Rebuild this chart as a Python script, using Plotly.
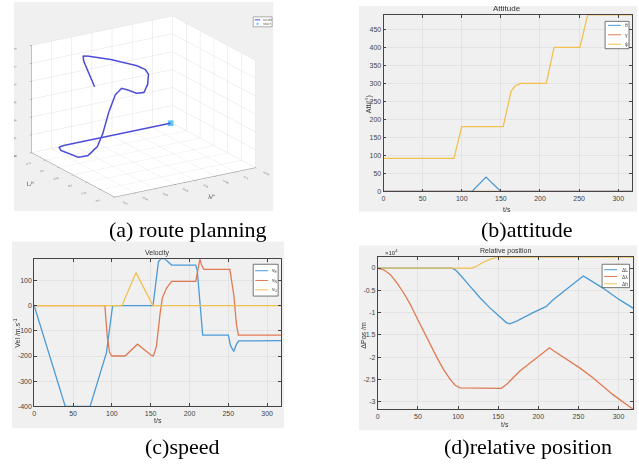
import plotly.graph_objects as go

W, H = 639, 464


def px(x):
    return x / W


def py(y):
    return 1 - y / H


# ---------------- (a) route planning: 3D track ----------------
route_lon = [114.140, 113.874, 113.860, 113.853, 113.861, 113.884, 113.915, 113.920,
             113.913, 113.892, 113.871, 113.877, 113.881, 113.897, 113.931, 113.966,
             113.976, 113.974, 113.948, 113.919, 113.910, 113.893, 113.828]
route_lat = [22.792, 22.792, 22.788, 22.771, 22.720, 22.718, 22.729, 22.717,
             22.685, 22.631, 22.578, 22.562, 22.539, 22.535, 22.571, 22.619,
             22.645, 22.672, 22.729, 22.768, 22.774, 22.746, 22.613]
route_alt = [106, 106, 106, 106, 106, 106, 120, 160,
             235, 310, 355, 355, 355, 355, 355, 355,
             355, 355, 355, 355, 355, 355, 355]
lon_ticks = [113.80, 113.85, 113.90, 113.95, 114.00, 114.05, 114.10, 114.15]
lat_ticks = [22.50, 22.55, 22.60, 22.65, 22.70, 22.75, 22.80]
alt_ticks = [100, 150, 200, 250, 300, 350, 400]

# ---------------- (b) attitude ----------------
att_t_theta = [0, 113, 131, 150, 318]
att_theta = [0, 0, 40, 0, 0]
att_t_gamma = [0, 318]
att_gamma = [0, 0]
att_t_psi = [0, 90, 100, 153, 163, 168, 175, 208, 218, 251, 261, 318]
att_psi = [92, 92, 180, 180, 278, 292, 300, 300, 400, 400, 490, 490]
att_yticks = [0, 50, 100, 150, 200, 250, 300, 350, 400, 450]

# ---------------- (c) velocity ----------------
vel_t_e = [0, 40, 72, 93, 101, 153, 160, 163, 168, 177, 208, 210, 217, 250, 253, 257,
           260.5, 263.5, 318]
vel_e = [0, -400, -400, -188, 0, 0, 174, 186, 186, 161, 161, 140, -117, -117, -160, -182,
         -153, -140, -139]
vel_t_n = [0, 91, 94, 97, 100, 117, 133, 151, 153.5, 157.5, 162, 165, 170.5, 177, 208,
           213.5, 215.5, 218.5, 252, 257, 260.5, 263, 318]
vel_n = [0, 0, -120, -185, -200, -200, -153, -198, -200, -160, -35, 30, 70, 96, 96,
         186, 161, 144, 144, 43, -75, -117, -117]
vel_t_u = [0, 113, 131, 153, 318]
vel_u = [0, 0, 131, 0, 0]
vel_yticks = [-400, -300, -200, -100, 0, 100]

# ---------------- (d) relative position (x 10^4 m) ----------------
pos_t_l = [0, 92, 96.5, 102.5, 115, 127, 140, 152, 160.5, 164.5, 173, 193.5, 210, 218.5,
           239, 256, 260, 280.5, 301, 318]
pos_l = [0, 0, -0.04, -0.15, -0.41, -0.66, -0.90, -1.10, -1.23, -1.25, -1.19, -1.00,
         -0.86, -0.71, -0.41, -0.18, -0.22, -0.45, -0.71, -0.90]
pos_t_lam = [0, 7.4, 15.7, 24, 32.3, 40.6, 48.8, 57, 65.4, 73.7, 82, 90.2, 96.4, 102.6,
             154, 160.5, 177, 197.8, 210, 214, 218.5, 235, 251.6, 268, 293, 318]
pos_lam = [0, -0.04, -0.15, -0.34, -0.56, -0.82, -1.12, -1.42, -1.72, -2.01, -2.28,
           -2.50, -2.63, -2.69, -2.70, -2.61, -2.31, -2.01, -1.83, -1.79, -1.85, -2.05,
           -2.24, -2.46, -2.84, -3.17]
pos_t_h = [0, 117, 123, 131.5, 140, 146, 149, 318]
pos_h = [0, 0, 0.04, 0.13, 0.20, 0.23, 0.24, 0.24]
pos_yticks = [-3, -2.5, -2, -1.5, -1, -0.5, 0]
pos_yticktext = ["-3", "-2.5", "-2", "-1.5", "-1", "-0.5", "0"]

t_ticks = [0, 50, 100, 150, 200, 250, 300]

BLUE = "#4a9ad6"
ORANGE = "#e07a55"
YELLOW = "#f0c050"
ROUTE = "#4b4bd8"
GRAYBG = "#f0f0f0"
TXT = "#333333"
SANS = "Liberation Sans"
SERIF = "Liberation Serif"

fig = go.Figure()

# 3D route
fig.add_trace(go.Scatter3d(x=route_lon, y=route_lat, z=route_alt, mode="lines",
                           line=dict(color=ROUTE, width=3), showlegend=False,
                           scene="scene"))
fig.add_trace(go.Scatter3d(x=route_lon[:1], y=route_lat[:1], z=route_alt[:1],
                           mode="markers",
                           marker=dict(symbol="square", size=3, color="#62c6f2"),
                           showlegend=False, scene="scene"))

# attitude
lw = 1.3
fig.add_trace(go.Scatter(x=att_t_theta, y=att_theta, mode="lines",
                         line=dict(color=BLUE, width=lw), xaxis="x", yaxis="y"))
fig.add_trace(go.Scatter(x=att_t_gamma, y=att_gamma, mode="lines",
                         line=dict(color=ORANGE, width=lw), xaxis="x", yaxis="y"))
fig.add_trace(go.Scatter(x=att_t_psi, y=att_psi, mode="lines",
                         line=dict(color=YELLOW, width=lw), xaxis="x", yaxis="y"))

# velocity
fig.add_trace(go.Scatter(x=vel_t_e, y=vel_e, mode="lines",
                         line=dict(color=BLUE, width=lw), xaxis="x2", yaxis="y2"))
fig.add_trace(go.Scatter(x=vel_t_n, y=vel_n, mode="lines",
                         line=dict(color=ORANGE, width=lw), xaxis="x2", yaxis="y2"))
fig.add_trace(go.Scatter(x=vel_t_u, y=vel_u, mode="lines",
                         line=dict(color=YELLOW, width=lw), xaxis="x2", yaxis="y2"))

# relative position
fig.add_trace(go.Scatter(x=pos_t_l, y=pos_l, mode="lines",
                         line=dict(color=BLUE, width=lw), xaxis="x3", yaxis="y3"))
fig.add_trace(go.Scatter(x=pos_t_lam, y=pos_lam, mode="lines",
                         line=dict(color=ORANGE, width=lw), xaxis="x3", yaxis="y3"))
fig.add_trace(go.Scatter(x=pos_t_h, y=pos_h, mode="lines",
                         line=dict(color=YELLOW, width=lw), xaxis="x3", yaxis="y3"))

for tr in fig.data:
    tr.showlegend = False


def cart_axis(domain, rng, tickvals, ticktext=None, anchor=None):
    d = dict(domain=domain, range=rng, tickvals=tickvals,
             ticks="inside", ticklen=3, tickcolor="#444", tickwidth=0.8,
             showline=True, mirror="allticks", linecolor="#444", linewidth=0.8,
             showgrid=True, gridcolor="#e3e3e3", gridwidth=0.8, zeroline=False,
             tickfont=dict(family=SANS, size=7, color="#444"), anchor=anchor)
    if ticktext is not None:
        d["ticktext"] = ticktext
    return d


def scene_axis(rng, tickvals, title):
    return dict(range=rng, tickvals=tickvals,
                ticktext=[str(v) for v in tickvals],
                title=dict(text=title, font=dict(family=SANS, size=6, color="#555")),
                tickfont=dict(family=SANS, size=5, color="#555"),
                showbackground=True, backgroundcolor="white",
                gridcolor="#e2e2e2", gridwidth=1, linecolor="#888",
                showline=True, zeroline=False, showspikes=False, ticks="outside",
                ticklen=2, tickcolor="#888")


eye_dir = (-0.4995, -0.7994, 0.3338)
eye_k = 1.6

fig.update_layout(
    width=W, height=H, margin=dict(l=0, r=0, t=0, b=0),
    paper_bgcolor="white", plot_bgcolor="white", showlegend=False,
    xaxis=cart_axis([px(382.7), px(632.3)], [0, 318], t_ticks, anchor="y"),
    yaxis=cart_axis([py(192.7), py(15)], [0, 490], att_yticks, anchor="x"),
    xaxis2=cart_axis([px(32.3), px(280)], [0, 318], t_ticks, anchor="y2"),
    yaxis2=cart_axis([py(409), py(261)], [-400, 184], vel_yticks,
                     [str(v) for v in vel_yticks], anchor="x2"),
    xaxis3=cart_axis([px(377), px(633)], [0, 318], t_ticks, anchor="y3"),
    yaxis3=cart_axis([py(412), py(259)], [-3.17, 0.24], pos_yticks, pos_yticktext,
                     anchor="x3"),
    scene=dict(
        domain=dict(x=[px(12), px(272)], y=[py(212), py(2)]),
        bgcolor=GRAYBG,
        xaxis=scene_axis([113.80, 114.15], lon_ticks, "λ/°"),
        yaxis=scene_axis([22.50, 22.80], lat_ticks, "L/°"),
        zaxis=scene_axis([100, 400], alt_ticks, "h/m"),
        aspectmode="manual", aspectratio=dict(x=1.59, y=1.50, z=1.09),
        camera=dict(eye=dict(x=eye_dir[0] * eye_k, y=eye_dir[1] * eye_k,
                             z=eye_dir[2] * eye_k),
                    up=dict(x=0, y=0, z=1), center=dict(x=0, y=0, z=0),
                    projection=dict(type="orthographic")),
    ),
)

shapes = []
# grey figure backgrounds of the four panels
for (x0, y0, x1, y1) in [(12, 2, 272, 212), (358, 6, 637, 213),
                         (10, 243, 283, 431), (358, 247, 637, 433)]:
    shapes.append(dict(type="rect", xref="paper", yref="paper", layer="below",
                       x0=px(x0), x1=px(x1), y0=py(y1), y1=py(y0),
                       fillcolor=GRAYBG, line=dict(width=0)))

annotations = []


def text(x, y, s, size=8, color=TXT, family=SANS, angle=0, xanchor="center"):
    annotations.append(dict(x=px(x), y=py(y), xref="paper", yref="paper", text=s,
                            showarrow=False, textangle=angle, xanchor=xanchor,
                            yanchor="middle",
                            font=dict(family=family, size=size, color=color)))


def legend_box(x0, y0, x1, y1, rows, line_x0, line_x1, label_x):
    shapes.append(dict(type="rect", xref="paper", yref="paper", layer="above",
                       x0=px(x0), x1=px(x1), y0=py(y1), y1=py(y0),
                       fillcolor="white", line=dict(color="#555", width=0.8)))
    for (yy, color, label) in rows:
        shapes.append(dict(type="line", xref="paper", yref="paper", layer="above",
                           x0=px(line_x0), x1=px(line_x1), y0=py(yy), y1=py(yy),
                           line=dict(color=color, width=1)))
        text(label_x, yy, label, size=5, color="#444", xanchor="left")


# panel titles and axis labels
text(507, 9, "Attitude", size=8)
text(368, 105, "Att/(°)", size=7, angle=-90)
text(507, 211, "t/s", size=7)

text(156, 255, "Velocity", size=7)
text(15, 335, "Vel /m.s<sup>-1</sup>", size=7, angle=-90)
text(156, 423, "t/s", size=7)

text(505, 253, "Relative position", size=7)
text(382, 254, "×10<sup>4</sup>", size=6, xanchor="left")
text(363, 337, "ΔPos /m", size=7, angle=-90)
text(505, 427, "t/s", size=7)

# legends
legend_box(605, 21.5, 629, 49, [(25.5, BLUE, "θ"), (35, ORANGE, "γ"), (44.5, YELLOW, "ψ")],
           608, 621, 623)
legend_box(252, 266, 277, 298, [(272.5, BLUE, "v<sub>E</sub>"), (282.3, ORANGE, "v<sub>N</sub>"),
                                (291.7, YELLOW, "v<sub>U</sub>")],
           254, 267, 269)
legend_box(602, 266, 629.5, 289.5, [(271.5, BLUE, "ΔL"), (278.3, ORANGE, "Δλ"),
                                    (285.7, YELLOW, "Δh")],
           604, 617, 619.5)
# 3D legend
shapes.append(dict(type="rect", xref="paper", yref="paper", layer="above",
                   x0=px(252), x1=px(271), y0=py(27), y1=py(17),
                   fillcolor="white", line=dict(color="#777", width=0.6)))
shapes.append(dict(type="line", xref="paper", yref="paper", layer="above",
                   x0=px(253.5), x1=px(259), y0=py(20), y1=py(20),
                   line=dict(color=ROUTE, width=1)))
shapes.append(dict(type="rect", xref="paper", yref="paper", layer="above",
                   x0=px(255.3), x1=px(257.3), y0=py(25), y1=py(23),
                   fillcolor="#62c6f2", line=dict(width=0)))
text(260, 20, "route", size=4, color="#666", xanchor="left")
text(260, 24, "start", size=4, color="#666", xanchor="left")

# captions
text(187, 231, "(a) route planning", size=22, color="black", family=SERIF)
text(527, 231, "(b)attitude", size=22, color="black", family=SERIF)
text(181, 449, "(c)speed", size=22, color="black", family=SERIF)
text(528, 449, "(d)relative position", size=22, color="black", family=SERIF)

fig.update_layout(shapes=shapes, annotations=annotations)

fig.write_html("out.html")
